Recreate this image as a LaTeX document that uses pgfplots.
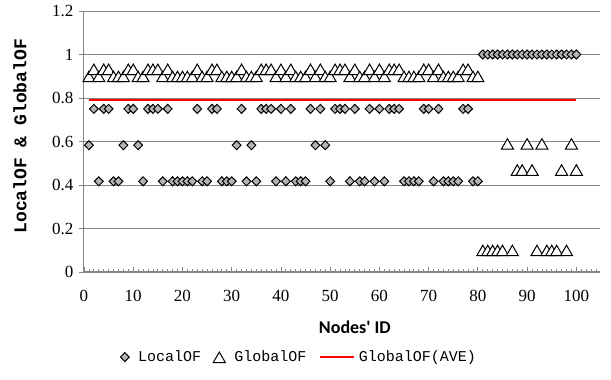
\documentclass[border=0pt]{standalone}
\usepackage{fontspec}
\setmainfont{Liberation Serif}
\newfontfamily\monof{Liberation Mono}
\newfontfamily\calib{Carlito}
\usepackage{pgfplots}
\pgfplotsset{compat=1.18}
\usepackage{pgfplotstable}
\definecolor{gridc}{RGB}{134,134,134}
\definecolor{dfill}{RGB}{180,180,180}

\pgfplotstableread{
n local global
1 0.583 0.9
2 0.75 0.933
3 0.417 0.9
4 0.75 0.933
5 0.75 0.933
6 0.417 0.9
7 0.417 0.9
8 0.583 0.9
9 0.75 0.933
10 0.75 0.933
11 0.583 0.9
12 0.417 0.9
13 0.75 0.933
14 0.75 0.933
15 0.75 0.933
16 0.417 0.9
17 0.75 0.933
18 0.417 0.9
19 0.417 0.9
20 0.417 0.9
21 0.417 0.9
22 0.417 0.9
23 0.75 0.933
24 0.417 0.9
25 0.417 0.9
26 0.75 0.933
27 0.75 0.933
28 0.417 0.9
29 0.417 0.9
30 0.417 0.9
31 0.583 0.9
32 0.75 0.933
33 0.417 0.9
34 0.583 0.9
35 0.417 0.9
36 0.75 0.933
37 0.75 0.933
38 0.75 0.933
39 0.417 0.9
40 0.75 0.933
41 0.417 0.9
42 0.75 0.933
43 0.417 0.9
44 0.417 0.9
45 0.417 0.9
46 0.75 0.933
47 0.583 0.9
48 0.75 0.933
49 0.583 0.9
50 0.417 0.9
51 0.75 0.933
52 0.75 0.933
53 0.75 0.933
54 0.417 0.9
55 0.75 0.933
56 0.417 0.9
57 0.417 0.9
58 0.75 0.933
59 0.417 0.9
60 0.75 0.933
61 0.417 0.9
62 0.75 0.933
63 0.75 0.933
64 0.75 0.933
65 0.417 0.9
66 0.417 0.9
67 0.417 0.9
68 0.417 0.9
69 0.75 0.933
70 0.75 0.933
71 0.417 0.9
72 0.75 0.933
73 0.417 0.9
74 0.417 0.9
75 0.417 0.9
76 0.417 0.9
77 0.75 0.933
78 0.75 0.933
79 0.417 0.9
80 0.417 0.9
81 1.0 0.1
82 1.0 0.1
83 1.0 0.1
84 1.0 0.1
85 1.0 0.1
86 1.0 0.59
87 1.0 0.1
88 1.0 0.47
89 1.0 0.47
90 1.0 0.59
91 1.0 0.47
92 1.0 0.1
93 1.0 0.59
94 1.0 0.1
95 1.0 0.1
96 1.0 0.1
97 1.0 0.47
98 1.0 0.1
99 1.0 0.59
100 1.0 0.47
}\data

\begin{document}
\begin{tikzpicture}
\path[use as bounding box] (-84pt,-108pt) rectangle (527pt,272pt);
\begin{axis}[
  at={(0,0)}, anchor=south west,
  scale only axis, width=516pt, height=261pt,
  xmin=0, xmax=104.8, ymin=0, ymax=1.2,
  xtick={0,10,...,100},
  minor xtick={0,1,...,104},
  ytick={0,0.2,0.4,0.6,0.8,1,1.2},
  yticklabels={0,0.2,0.4,0.6,0.8,1,1.2},
  axis lines*=left,
  axis line style={draw=gridc, line width=1pt, -},
  tick align=inside,
  major tick length=5pt, minor tick length=3pt,
  tick style={draw=gridc, line width=0.8pt},
  y tick style={xshift=-5pt},
  ymajorgrids, grid style={draw=gridc, line width=0.9pt},
  /pgf/number format/assume math mode=true,
  tick label style={font=\fontsize{17}{19}\selectfont},
  yticklabel style={xshift=-7pt},
  xticklabel style={yshift=-15pt},
  xlabel={Nodes' ID},
  xlabel style={font=\calib\bfseries\fontsize{18}{20}\selectfont, at={(axis description cs:0.525,-0.21)}, anchor=center},
  ylabel={LocalOF \& GlobalOF},
  ylabel style={font=\monof\bfseries\fontsize{18}{20}\selectfont, at={(axis description cs:-0.124,0.52)}, anchor=center},
  legend columns=3,
  legend style={draw=none, at={(axis description cs:0.417,-0.326)}, anchor=center,
    font=\monof\fontsize{15}{18}\selectfont,
    /tikz/every odd column/.append style={column sep=7pt},
    /tikz/every even column/.append style={column sep=10pt}},
]
\addplot[only marks, mark=diamond*, mark size=4.5pt,
  mark options={fill=dfill, draw=black, line width=1pt, xscale=1.3}]
  table[x=n, y=local]{\data};
\addlegendentry{LocalOF}
\addplot[only marks, mark=triangle*, mark size=7pt,
  mark options={fill=white, draw=black, line width=1pt, yshift=-2pt}]
  table[x=n, y=global]{\data};
\addlegendentry{GlobalOF}
\addplot[red, line width=2.5pt, no marks,
  legend image code/.code={\draw[red, line width=2.5pt] (0pt,0pt) -- (29pt,0pt); \draw[overlay, red, line width=2.5pt] (28pt,0pt) -- (34pt,0pt);}]
  coordinates {(1,0.79) (100,0.79)};
\addlegendentry{GlobalOF(AVE)}
\end{axis}
\end{tikzpicture}
\end{document}
